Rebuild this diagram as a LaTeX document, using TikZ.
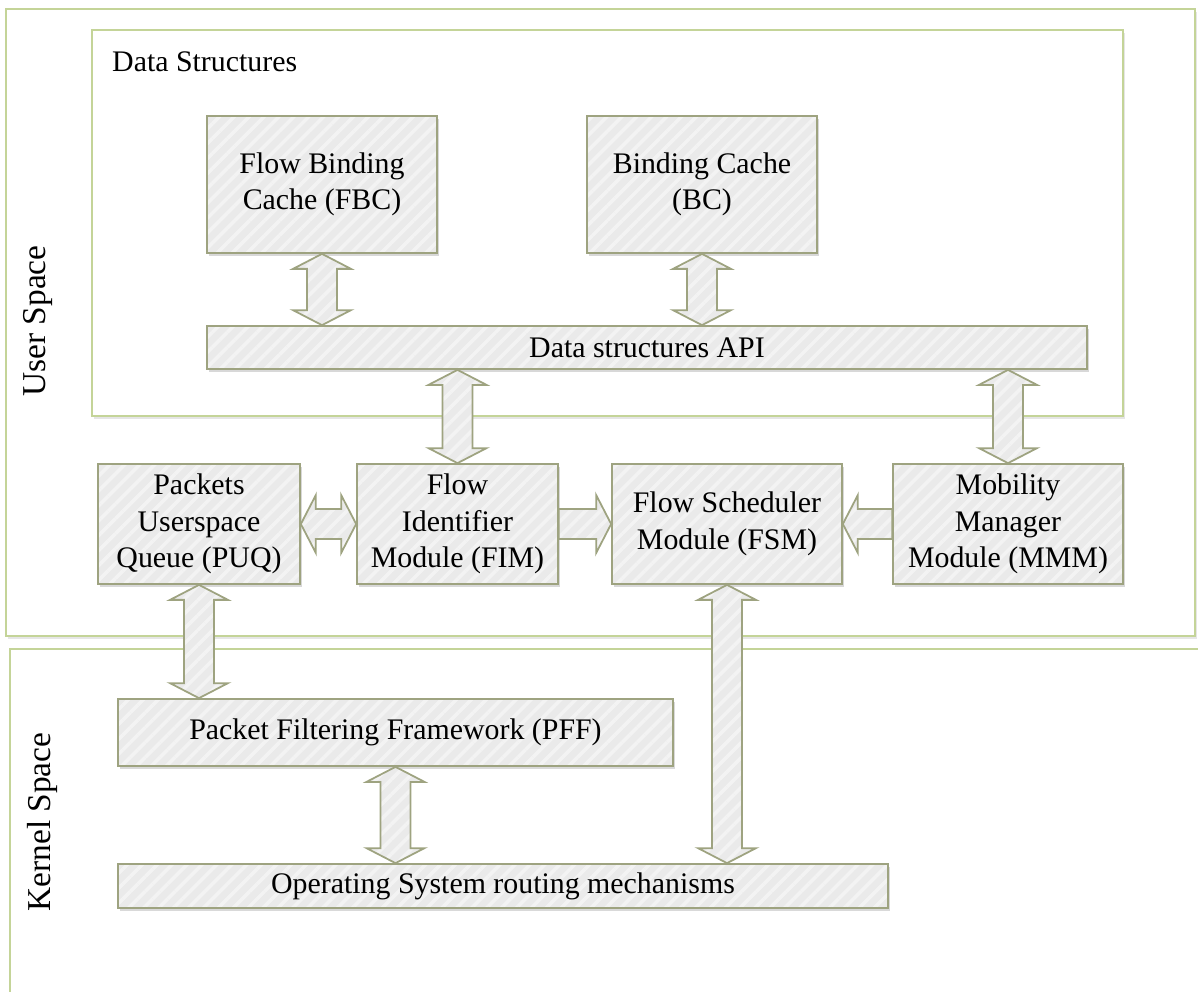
\documentclass[tikz,border=0pt]{standalone}
\usepackage{fontspec}
\setmainfont{Liberation Serif}
\usepackage{tikz}
\usetikzlibrary{calc, shadows, patterns.meta}
\definecolor{frameline}{RGB}{196,212,152}
\definecolor{boxline}{RGB}{158,163,128}
\definecolor{boxfill}{RGB}{234,234,234}
\tikzstyle{stripes} = [pattern={Lines[angle=45, distance=6pt, line width=2pt]}, pattern color=white!45!boxfill]
\tikzstyle{block} = [draw=boxline, line width=1pt, rectangle, inner sep=2pt, align=center,
    font=\fontsize{17}{20.8}\selectfont,
    drop shadow={shadow xshift=1.2pt, shadow yshift=-1.8pt, opacity=0.25, fill=black!60},
    preaction={fill=boxfill}, preaction={stripes}]
\tikzstyle{frame} = [draw=frameline, line width=1.2pt, fill=white,
    drop shadow={shadow xshift=1.2pt, shadow yshift=-1.8pt, opacity=0.2, fill=black!50}]
\tikzstyle{blockarrow} = [draw=boxline, line width=1pt, line join=miter,
    preaction={fill=boxfill}, preaction={stripes}]
\tikzstyle{side} = [rotate=90, font=\fontsize{19}{22}\selectfont]
\newcommand{\headw}{0.58cm}
\newcommand{\headl}{0.3cm}
\newcommand{\shaftw}{0.3cm}
% vertical double arrow: top node, bottom node, node giving x
\newcommand{\dualarrow}[3]{%
  \draw [blockarrow] let \p1=(#1.south -| #3), \p2=(#2.north -| #3) in
    (\x1,\y1) -- ({\x1+\headw},{\y1-\headl}) -- ({\x1+\shaftw},{\y1-\headl})
    -- ({\x1+\shaftw},{\y2+\headl}) -- ({\x1+\headw},{\y2+\headl}) -- (\x1,\y2)
    -- ({\x1-\headw},{\y2+\headl}) -- ({\x1-\shaftw},{\y2+\headl})
    -- ({\x1-\shaftw},{\y1-\headl}) -- ({\x1-\headw},{\y1-\headl}) -- cycle;}
% horizontal double arrow: left node, right node
\newcommand{\sidearrow}[2]{%
  \draw [blockarrow] let \p1=(#1.east), \p2=(#2.west |- #1.east) in
    (\x1,\y1) -- ({\x1+\headl},{\y1+\headw}) -- ({\x1+\headl},{\y1+\shaftw})
    -- ({\x2-\headl},{\y1+\shaftw}) -- ({\x2-\headl},{\y1+\headw}) -- (\x2,\y1)
    -- ({\x2-\headl},{\y1-\headw}) -- ({\x2-\headl},{\y1-\shaftw})
    -- ({\x1+\headl},{\y1-\shaftw}) -- ({\x1+\headl},{\y1-\headw}) -- cycle;}
% horizontal single arrow: tail anchor, head anchor
\newcommand{\onearrow}[2]{%
  \draw [blockarrow] let \p1=(#1), \p2=(#2 |- #1), \n1={ifthenelse(\x2>\x1,1,-1)} in
    (\x1,{\y1+\shaftw}) -- ({\x2-(\n1)*\headl},{\y1+\shaftw}) -- ({\x2-(\n1)*\headl},{\y1+\headw})
    -- (\x2,\y1) -- ({\x2-(\n1)*\headl},{\y1-\headw}) -- ({\x2-(\n1)*\headl},{\y1-\shaftw})
    -- (\x1,{\y1-\shaftw}) -- cycle;}

\begin{document}
\begin{tikzpicture}[x=0.02cm, y=-0.02cm]
    \useasboundingbox (0,0) rectangle (1198,992);
    % user space and data structures
    \draw [frame] (6,9) rectangle (1195,636);
    \draw [frame] (92,30) rectangle (1123,416);
    % kernel space
    \draw [frameline, line width=1.2pt] (1198,649) -- (10,649) -- (10,992);
    \node [side] (user) at (38,321) {User Space};
    \node [side] (kernel) at (42,822) {Kernel Space};
    \node [anchor=base west, font=\fontsize{17}{20.8}\selectfont] (ds) at (106,71) {Data Structures};

    \node [block, minimum width=4.6cm, minimum height=2.74cm] (fbc) at (322,184.5) {Flow Binding\\Cache (FBC)};
    \node [block, minimum width=4.6cm, minimum height=2.74cm] (bc) at (702,184.5) {Binding Cache\\(BC)};
    \node [block, minimum width=17.6cm, minimum height=0.86cm] (api) at (647,347.5) {Data structures API};
    \node [block, minimum width=4.04cm, minimum height=2.4cm] (puq) at (199,524) {Packets\\Userspace\\Queue (PUQ)};
    \node [block, minimum width=4.02cm, minimum height=2.4cm] (fim) at (457.5,524) {Flow\\Identifier\\Module (FIM)};
    \node [block, minimum width=4.6cm, minimum height=2.4cm] (fsm) at (727,524) {Flow Scheduler\\Module (FSM)};
    \node [block, minimum width=4.6cm, minimum height=2.4cm] (mmm) at (1008,524) {Mobility\\Manager\\Module (MMM)};
    \node [block, minimum width=11.1cm, minimum height=1.34cm] (pff) at (395.5,732.5) {Packet Filtering Framework (PFF)};
    \node [block, minimum width=15.4cm, minimum height=0.88cm] (os) at (503,886) {Operating System routing mechanisms};

    \dualarrow{fbc}{api}{fbc}
    \dualarrow{bc}{api}{bc}
    \dualarrow{api}{fim}{fim}
    \dualarrow{api}{mmm}{mmm}
    \sidearrow{puq}{fim}
    \onearrow{fim.east}{fsm.west}
    \onearrow{mmm.west}{fsm.east}
    \dualarrow{puq}{pff}{puq}
    \dualarrow{pff}{os}{pff}
    \dualarrow{fsm}{os}{fsm}
\end{tikzpicture}
\end{document}
